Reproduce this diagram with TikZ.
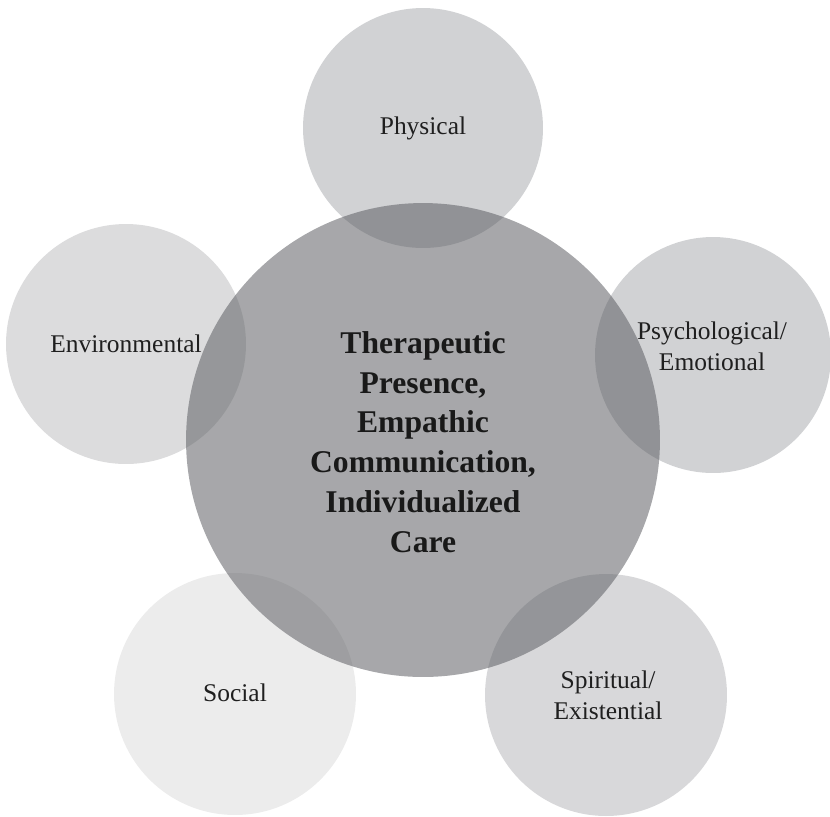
\documentclass[tikz,border=0pt]{standalone}
\usepackage{fontspec}
\setmainfont{Liberation Serif}
\usetikzlibrary{positioning}

\definecolor{hubgray}{RGB}{92,93,98}
\definecolor{petalmid}{RGB}{209,210,212}
\definecolor{petallight}{RGB}{220,220,221}
\definecolor{petalpale}{RGB}{236,236,236}
\definecolor{petalsoft}{RGB}{216,216,218}

\begin{document}
\begin{tikzpicture}[x=0.02cm, y=-0.02cm]
    % Styles
    \tikzset{
        petal/.style={circle, inner sep=0pt, minimum size=4.8cm},
        hub/.style={circle, inner sep=0pt, fill=hubgray, fill opacity=0.54, minimum size=9.48cm},
        petal_text/.style={font=\fontsize{14.5}{17.5}\selectfont, align=center, text=black!88},
        hub_text/.style={font=\fontsize{18}{22.7}\selectfont\bfseries, align=center, text=black!90}
    }

    \useasboundingbox (0,0) rectangle (830,816);

    % --- Outer circles ---
    \node[petal, fill=petalmid] (physical) at (423,128) {};
    \node[petal, fill=petallight] (environmental) at (126,344) {};
    \node[petal, fill=petalmid, minimum size=4.72cm] (psychological) at (713,355) {};
    \node[petal, fill=petalpale, minimum size=4.84cm] (social) at (235,694) {};
    \node[petal, fill=petalsoft, minimum size=4.84cm] (spiritual) at (606,695) {};

    % --- Middle circle (see-through) ---
    \node[hub] (presence) at (423,440) {};

    % --- Labels ---
    \node[petal_text] (physical_lbl) at (physical) {Physical};
    \node[petal_text] (environmental_lbl) at (environmental) {Environmental};
    \node[petal_text] (psychological_lbl) at (712,346) {Psychological/\\Emotional};
    \node[petal_text] (social_lbl) at (235,693) {Social};
    \node[petal_text] (spiritual_lbl) at (608,695) {Spiritual/\\Existential};
    \node[hub_text] (presence_lbl) at (423,442) {Therapeutic\\Presence,\\Empathic\\Communication,\\Individualized\\Care};

\end{tikzpicture}
\end{document}
